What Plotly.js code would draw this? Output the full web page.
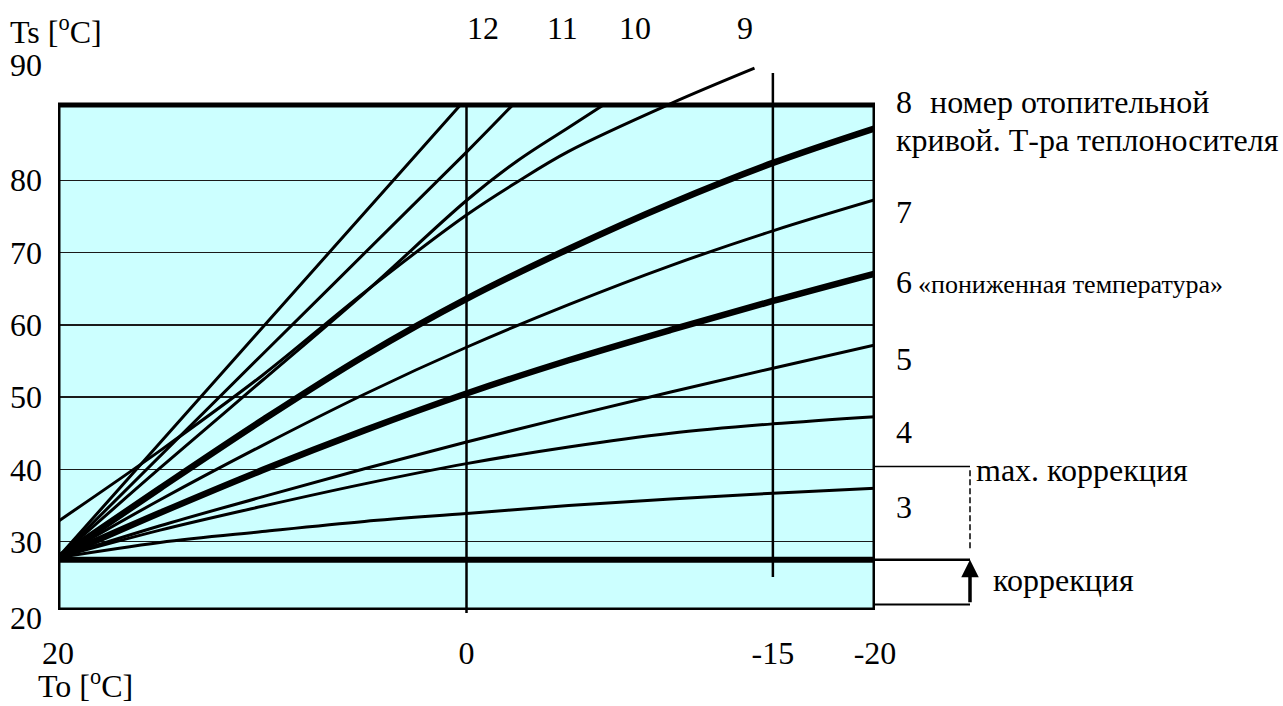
<!DOCTYPE html>
<html>
<head>
<meta charset="utf-8">
<script src="https://cdn.plot.ly/plotly-3.0.1.min.js"></script>
<style>
  html, body { margin: 0; padding: 0; background: #fff; }
  #chart { width: 1283px; height: 706px; }
</style>
</head>
<body>
<div id="chart"></div>
<script>
// outdoor temperature To (x) and supply temperature Ts (y)
var toMain = [20, 15, 10, 5, 0, -5, -10, -15, -20];
var ts3 = [27.8, 29.9, 31.4, 32.8, 33.9, 35.0, 35.9, 36.7, 37.4];
var ts4 = [27.8, 31.6, 34.9, 38.0, 40.8, 43.1, 45.0, 46.3, 47.3];
var ts5 = [27.8, 32.2, 36.2, 40.1, 43.8, 47.3, 50.7, 54.0, 57.2];
var ts6 = [27.8, 34.0, 39.9, 45.4, 50.5, 55.1, 59.3, 63.3, 67.1];
var ts7 = [27.8, 35.8, 43.3, 50.4, 56.9, 62.8, 68.2, 73.0, 77.3];
var ts8 = [27.8, 37.4, 46.8, 55.7, 63.6, 70.5, 76.8, 82.4, 87.2];

var to9 = [20, 15, 10, 5, 0, -2.5, -5, -10, -14.1];
var ts9 = [32.8, 42.6, 53.0, 64.5, 75.2, 79.8, 84.0, 90.6, 95.5];
var to10 = [20, 15, 10, 5, 0, -2.5, -5, -6.7];
var ts10 = [27.8, 40.2, 52.3, 64.4, 77.2, 82.7, 87.3, 90.4];
var to11 = [20, 10, 0, -2.25];
var ts11 = [27.8, 55.9, 83.9, 90.4];
var to12 = [20, 10, 0.3];
var ts12 = [27.8, 59.6, 90.4];

var curveNames = ['3', '4', '5', '6', '7', '8', '9', '10', '11', '12'];
var curveX = [toMain, toMain, toMain, toMain, toMain, toMain, to9, to10, to11, to12];
var curveY = [ts3, ts4, ts5, ts6, ts7, ts8, ts9, ts10, ts11, ts12];
var boldCurves = ['6', '8'];

var yTicks = [30, 40, 50, 60, 70, 80];
var xTicks = [20, 0, -15, -20];
var xTickText = ['20', '0', '-15', '-20'];

var boxTop = 90.42;     // top edge of the blue field
var correction = 27.5;  // shifted base line
var maxCorrection = 40.4;

// plot area in pixels
var L = 58, R = 875, T = 61, B = 610;
function px(p) { return (p - L) / (R - L); }
function py(p) { return (B - p) / (B - T); }

var serif = 'Liberation Serif';
var big = {family: serif, size: 32, color: '#000'};
var small = {family: serif, size: 26, color: '#000'};

var data = curveNames.map(function (n, i) {
  return {
    x: curveX[i],
    y: curveY[i],
    name: n,
    type: 'scatter',
    mode: 'lines',
    line: {color: '#000', width: boldCurves.indexOf(n) >= 0 ? 6.5 : 3, shape: 'spline', smoothing: 1},
    hoverinfo: 'skip'
  };
});

function label(text, x, y, xanchor, font) {
  return {text: text, xref: 'paper', yref: 'paper', x: px(x), y: py(y),
    xanchor: xanchor || 'left', yanchor: 'middle', showarrow: false, font: font || big};
}

var annotations = [
  label('Ts [<sup>o</sup>C]', 8, 30),
  label('90', 8, 65),
  label('20', 8, 618),
  label('To [<sup>o</sup>C]', 36, 684),
  label('12', 483, 28, 'center'),
  label('11', 562, 28, 'center'),
  label('10', 635, 28, 'center'),
  label('9', 745, 28, 'center'),
  label('8', 894, 102),
  label('номер отопительной', 928, 102),
  label('кривой. Т-ра теплоносителя', 894, 140),
  label('7', 894, 212),
  label('6', 894, 282),
  label('«пониженная температура»', 916, 284, 'left', small),
  label('5', 894, 359),
  label('4', 894, 432),
  label('max. коррекция', 974, 470),
  label('3', 894, 507),
  label('коррекция', 991, 580),
  {text: '', xref: 'paper', yref: 'y', x: px(970), y: correction, ax: 0, ay: 44,
    showarrow: true, arrowhead: 2, arrowsize: 1, arrowwidth: 3.5, arrowcolor: '#000', standoff: 0}
];

var shapes = [
  {type: 'rect', xref: 'x', yref: 'y', x0: 20, x1: -20, y0: 20.55, y1: boxTop,
    fillcolor: '#CCFFFF', line: {width: 0}, layer: 'below'},
  {type: 'line', xref: 'x', yref: 'y', x0: 20, x1: -20, y0: correction, y1: correction,
    line: {color: '#000', width: 6}, layer: 'between'},
  {type: 'line', xref: 'x', yref: 'paper', x0: 0, x1: 0, y0: py(613), y1: py(105),
    line: {color: '#000', width: 2.5}},
  {type: 'line', xref: 'x', yref: 'paper', x0: -15, x1: -15, y0: py(577), y1: py(73),
    line: {color: '#000', width: 2.5}},
  {type: 'line', xref: 'paper', yref: 'y', x0: 1, x1: px(970), y0: maxCorrection, y1: maxCorrection,
    line: {color: '#000', width: 1.5}},
  {type: 'line', xref: 'paper', yref: 'y', x0: 1, x1: px(970), y0: correction, y1: correction,
    line: {color: '#000', width: 2.5}},
  {type: 'line', xref: 'paper', yref: 'paper', x0: 1, x1: px(970), y0: py(604.5), y1: py(604.5),
    line: {color: '#000', width: 2}},
  {type: 'line', xref: 'paper', yref: 'y', x0: px(970), x1: px(970), y0: 39.9, y1: 28.7,
    line: {color: '#000', width: 1.5, dash: '6px,3px'}},
  {type: 'rect', xref: 'x', yref: 'y', x0: 20, x1: -20, y0: 20.55, y1: boxTop,
    line: {color: '#000', width: 5}, layer: 'above'}
];

var layout = {
  width: 1283,
  height: 706,
  margin: {l: L, r: 1283 - R, t: T, b: 706 - B, pad: 0},
  font: big,
  paper_bgcolor: '#fff',
  plot_bgcolor: 'rgba(0,0,0,0)',
  showlegend: false,
  xaxis: {
    range: [20, -20],
    tickvals: xTicks,
    ticktext: xTickText,
    ticks: '',
    showgrid: false,
    zeroline: false,
    showline: false,
    tickfont: big,
    ticklabelstandoff: 21
  },
  yaxis: {
    range: [20.55, 96.5],
    tickvals: yTicks,
    ticks: '',
    showgrid: true,
    gridcolor: '#1a1a1a',
    gridwidth: 1.5,
    zeroline: false,
    showline: false,
    tickfont: big,
    ticklabelstandoff: 15
  },
  shapes: shapes,
  annotations: annotations
};

Plotly.newPlot('chart', data, layout, {staticPlot: true});
</script>
</body>
</html>
